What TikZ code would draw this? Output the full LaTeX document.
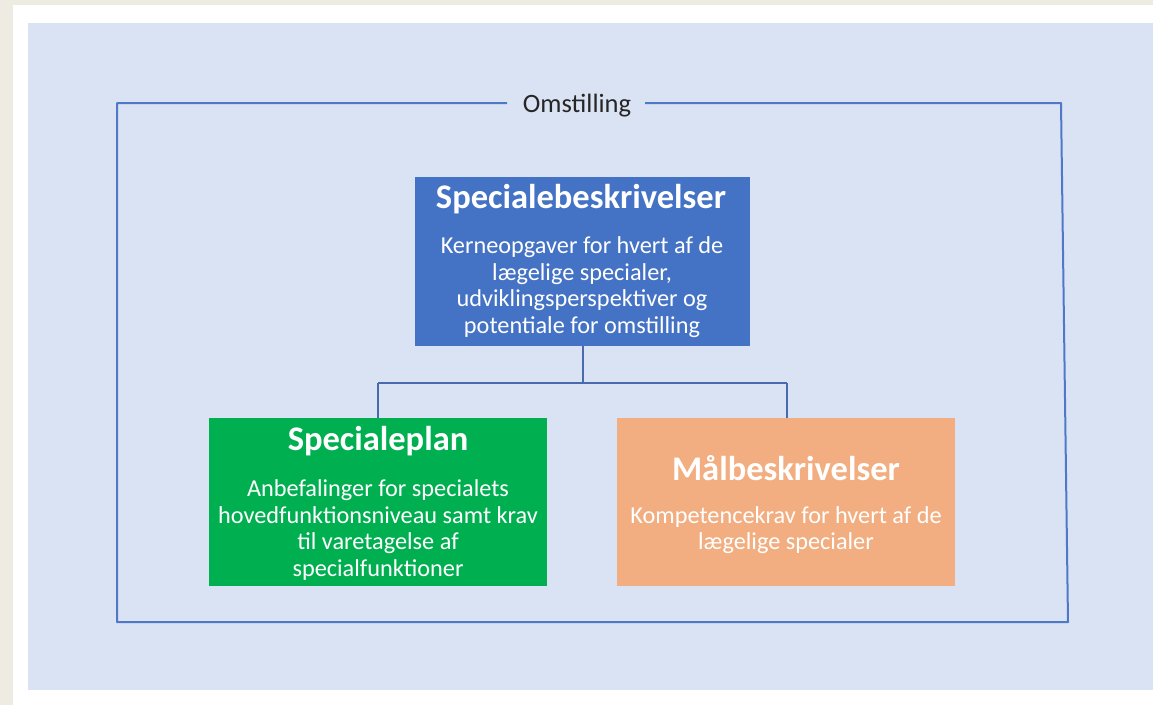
\documentclass[tikz,border=0pt]{standalone}
\usepackage{fontspec}
\setmainfont{Carlito}
\definecolor{beige}{HTML}{EEEBE3}
\definecolor{panel}{HTML}{DAE3F3}
\definecolor{frameblue}{HTML}{4F78C8}
\definecolor{linkblue}{HTML}{4A6AAF}
\definecolor{boxblue}{HTML}{4472C4}
\definecolor{boxgreen}{HTML}{00B050}
\definecolor{boxorange}{HTML}{F2AE80}
\tikzset{
  box/.style={draw=none, inner sep=0pt, anchor=north west},
  title/.style={text=white, font=\fontsize{34.5}{40}\selectfont\bfseries, inner sep=0pt},
  body/.style={text=white, font=\fontsize{24.3}{26.5}\selectfont, align=center, inner sep=0pt},
  link/.style={draw=linkblue, line width=1.5pt},
  frameline/.style={draw=frameblue, line width=2pt, line join=round}
}
\begin{document}
\begin{tikzpicture}[x=1pt,y=-1pt]
\fill[beige] (0,0) rectangle (1153,705);
\useasboundingbox (0,0) rectangle (1153,705);
\fill[white] (13,5) rectangle (1153,705);
\fill[panel] (28,23) rectangle (1153,690);
% boxes
\node[box, fill=boxblue, minimum width=335pt, minimum height=169pt] (spec) at (415,177) {};
\node[box, fill=boxgreen, minimum width=338pt, minimum height=168pt] (plan) at (209,418) {};
\node[box, fill=boxorange, minimum width=338pt, minimum height=168pt] (maal) at (617,418) {};
% texts
\node[title] (spect) at (581,199) {Specialebeskrivelser};
\node[body] (specb) at (582,287) {Kerneopgaver for hvert af de\\lægelige specialer,\\udviklingsperspektiver og\\potentiale for omstilling};
\node[title] (plant) at (378,441) {Specialeplan};
\node[body] (planb) at (378,530) {Anbefalinger for specialets\\hovedfunktionsniveau samt krav\\til varetagelse af\\specialfunktioner};
\node[title] (maalt) at (786,468) {Målbeskrivelser};
\node[body] (maalb) at (786,530) {Kompetencekrav for hvert af de\\lægelige specialer};
% frame
\node[font=\fontsize{26.5}{30}\selectfont, inner sep=0pt, text=black!85] (oms) at (577,106) {Omstilling};
\coordinate (fl) at (507,103);
\coordinate (fr) at (645,103);
\coordinate (c1) at (117,103);
\coordinate (c2) at (117,622);
\coordinate (c3) at (1068,622);
\coordinate (c4) at (1061,103);
\draw[frameline] (fl) -- (c1) -- (c2) -- (c3) -- (c4) -- (fr);
% connectors
\coordinate (j) at (583,383);
\draw[link] (spec.south -| j) -- (j);
\draw[link] (378,383) -- (787,383);
\draw[link] (378,383) -- (plan.north -| 378,0);
\draw[link] (787,383) -- (maal.north -| 787,0);
\end{tikzpicture}
\end{document}
